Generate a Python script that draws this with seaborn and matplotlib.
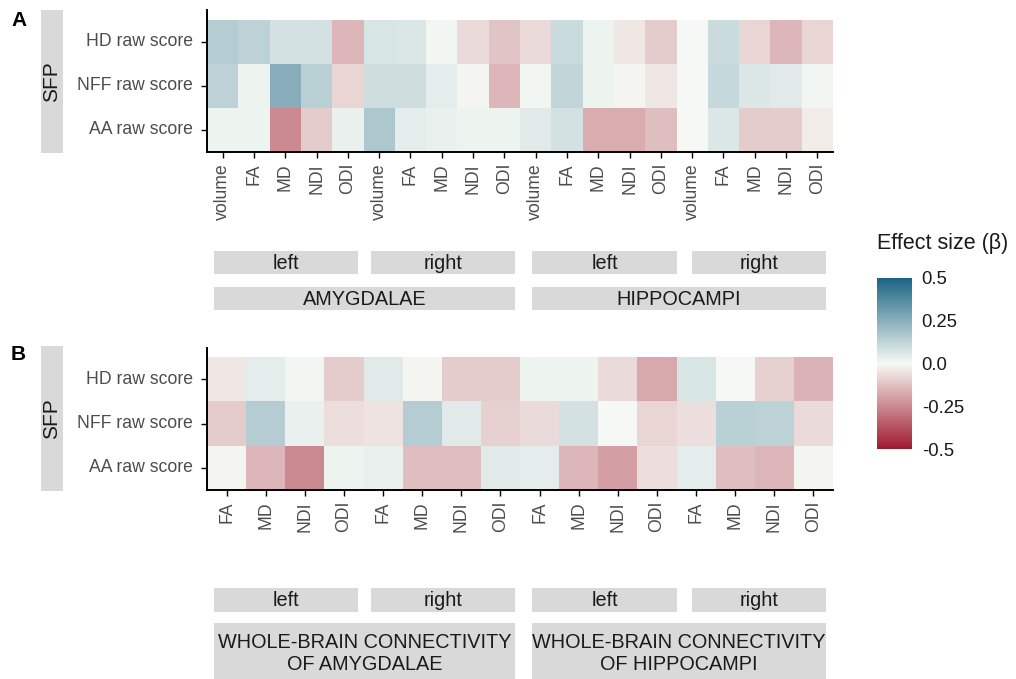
import numpy as np
import matplotlib
matplotlib.use("Agg")
import matplotlib.pyplot as plt
from matplotlib.colors import LinearSegmentedColormap, Normalize
from matplotlib.cm import ScalarMappable
from matplotlib.patches import Rectangle
import seaborn as sns

# ---------------- data ----------------
scores = ["HD raw score", "NFF raw score", "AA raw score"]
metrics_a = ["volume", "FA", "MD", "NDI", "ODI"] * 4
metrics_b = ["FA", "MD", "NDI", "ODI"] * 4
sides = ["left", "right", "left", "right"]
regions_a = ["AMYGDALAE", "HIPPOCAMPI"]
regions_b = ["WHOLE-BRAIN CONNECTIVITY\nOF AMYGDALAE",
             "WHOLE-BRAIN CONNECTIVITY\nOF HIPPOCAMPI"]

# Panel A: amygdalae (left, right) then hippocampi (left, right)
hd_a = [0.15, 0.13, 0.08, 0.08, -0.15, 0.07, 0.06, 0.01, -0.07, -0.12,
        -0.07, 0.10, 0.02, -0.04, -0.10, 0.00, 0.10, -0.08, -0.15, -0.08]
nff_a = [0.13, 0.02, 0.25, 0.14, -0.08, 0.09, 0.09, 0.04, -0.01, -0.15,
         0.01, 0.12, 0.02, -0.01, -0.04, 0.00, 0.11, 0.06, 0.05, 0.01]
aa_a = [0.02, 0.02, -0.25, -0.10, 0.03, 0.17, 0.04, 0.03, 0.02, 0.02,
        0.05, 0.08, -0.17, -0.17, -0.13, 0.00, 0.06, -0.10, -0.10, -0.03]

# Panel B: whole-brain connectivity
hd_b = [-0.04, 0.04, 0.01, -0.10, 0.05, -0.01, -0.10, -0.10,
        0.02, 0.02, -0.07, -0.18, 0.07, 0.00, -0.09, -0.16]
nff_b = [-0.10, 0.15, 0.03, -0.06, -0.05, 0.15, 0.05, -0.09,
         -0.07, 0.08, 0.00, -0.08, -0.06, 0.14, 0.13, -0.07]
aa_b = [-0.01, -0.15, -0.25, 0.02, 0.03, -0.13, -0.13, 0.05,
        0.04, -0.15, -0.20, -0.06, 0.04, -0.13, -0.15, -0.01]

cbar_ticks = [0.5, 0.25, 0.0, -0.25, -0.5]
cbar_labels = ["0.5", "0.25", "0.0", "-0.25", "-0.5"]

# ---------------- style ----------------
sns.set_style("white")
plt.rcParams["font.family"] = ["Liberation Sans", "DejaVu Sans"]

W, H = 1016, 679
fig = plt.figure(figsize=(W / 100, H / 100), dpi=100)


def px_axes(x0, y0, x1, y1):
    return fig.add_axes([x0 / W, 1 - y1 / H, (x1 - x0) / W, (y1 - y0) / H])


# overlay for strips / annotations (pixel coordinates)
ov = fig.add_axes([0, 0, 1, 1])
ov.set_xlim(0, W)
ov.set_ylim(H, 0)
ov.axis("off")
ov.patch.set_alpha(0)

cmap = LinearSegmentedColormap.from_list("beta", ["#a01a2e", "#f6f9f4", "#1c6584"])
norm = Normalize(vmin=-0.5, vmax=0.5)

TICK_COL = "#4d4d4d"
STRIP_COL = "#d9d9d9"
STRIP_TXT = "#1a1a1a"
FS = 12.7
STRIP_FS = 14.3


def draw_heat(ax, data, xlabels, pad):
    sns.heatmap(np.array(data), ax=ax, cmap=cmap, vmin=-0.5, vmax=0.5, cbar=False,
                xticklabels=xlabels, yticklabels=scores)
    ax.set_ylim(3, -pad)
    for s in ["left", "bottom"]:
        ax.spines[s].set_visible(True)
        ax.spines[s].set_color("black")
        ax.spines[s].set_linewidth(1.4)
    for s in ["top", "right"]:
        ax.spines[s].set_visible(False)
    ax.tick_params(axis="both", length=4, width=1, color="black",
                   labelcolor=TICK_COL, labelsize=FS, bottom=True, left=True)
    ax.tick_params(axis="x", labelrotation=90, pad=4)
    ax.tick_params(axis="y", labelrotation=0, pad=6)
    ax.set_xlabel("")
    ax.set_ylabel("")


def strip(x0, y0, x1, y1, text):
    ov.add_patch(Rectangle((x0, y0), x1 - x0, y1 - y0, facecolor=STRIP_COL,
                           edgecolor="none"))
    ov.text((x0 + x1) / 2, (y0 + y1) / 2 + 1, text, ha="center", va="center",
            fontsize=STRIP_FS, color=STRIP_TXT)


def sfp_strip(y0, y1):
    ov.add_patch(Rectangle((41, y0), 22, y1 - y0, facecolor=STRIP_COL, edgecolor="none"))
    ov.text(52, (y0 + y1) / 2, "SFP", rotation=90, ha="center", va="center",
            fontsize=15, color=STRIP_TXT)


# ---------------- panel A ----------------
axA = px_axes(207, 10, 833, 152)
draw_heat(axA, [hd_a, nff_a, aa_a], metrics_a, 10 / 44)
sfp_strip(10, 153)
ov.text(11, 20, "A", fontsize=15, fontweight="bold", ha="left", va="center", color="black")

stripx = [(214, 358), (371, 515), (532, 677), (692, 826)]
for (x0, x1), s in zip(stripx, sides):
    strip(x0, 251, x1, 274, s)
strip(214, 287, 515, 310, regions_a[0])
strip(532, 287, 826, 310, regions_a[1])

# ---------------- panel B ----------------
axB = px_axes(207, 348, 833, 490)
draw_heat(axB, [hd_b, nff_b, aa_b], metrics_b, 9 / 44)
sfp_strip(346, 491)
ov.text(11, 355, "B", fontsize=15, fontweight="bold", ha="left", va="center", color="black")

for (x0, x1), s in zip(stripx, sides):
    strip(x0, 588, x1, 612, s)
for (x0, x1), r in zip([(214, 515), (532, 826)], regions_b):
    ov.add_patch(Rectangle((x0, 623), x1 - x0, 70, facecolor=STRIP_COL, edgecolor="none"))
    ov.text((x0 + x1) / 2, 653, r, ha="center", va="center", fontsize=STRIP_FS,
            color=STRIP_TXT, linespacing=1.2)

# ---------------- colour bar ----------------
cax = px_axes(877, 278, 912, 449)
cb = fig.colorbar(ScalarMappable(norm=norm, cmap=cmap), cax=cax)
cb.outline.set_visible(False)
cb.set_ticks(cbar_ticks)
cb.set_ticklabels(cbar_labels)
cax.tick_params(axis="y", direction="in", color="white", length=5, width=1,
                left=True, right=True, labelsize=13.3, labelcolor=STRIP_TXT, pad=7)
ov.text(877, 243, "Effect size (\u03b2)", ha="left", va="center", fontsize=15.5,
        color=STRIP_TXT)

fig.savefig("out.png", dpi=100)
